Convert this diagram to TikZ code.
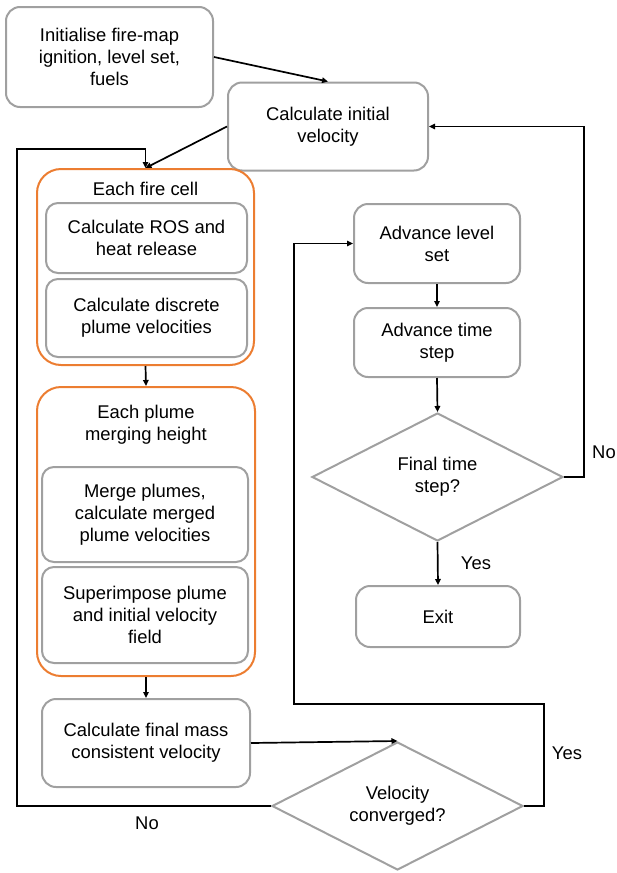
\documentclass[tikz,border=0pt]{standalone}
\usepackage{fontspec}
\setmainfont{Liberation Sans}
\usetikzlibrary{shapes.geometric,arrows.meta}
\definecolor{boxgray}{RGB}{160,160,160}
\definecolor{fireorange}{RGB}{236,125,49}
\begin{document}
\begin{tikzpicture}[x=1pt,y=-1pt,
  every node/.style={font=\fontsize{18.4}{22}\selectfont, align=center, inner sep=0pt},
  gbox/.style={draw=boxgray, line width=2pt, rounded corners=14pt, fill=white},
  obox/.style={draw=fireorange, line width=2pt, rounded corners=24pt},
  ibox/.style={draw=boxgray, line width=2pt, rounded corners=12pt},
  dbox/.style={draw=boxgray, line width=2pt, shape=diamond, aspect=2},
  conn/.style={line width=1.7pt, -{Triangle[length=6pt,width=5.5pt]}},
  plainline/.style={line width=1.7pt}]
\useasboundingbox (0,0) rectangle (616,873);

% left column
\node[gbox, minimum width=207pt, minimum height=100pt] (init) at (109.5,57) {Initialise fire-map\\ignition, level set,\\fuels};
\node[gbox, minimum width=200pt, minimum height=88pt] (calcinit) at (328,126.5) {Calculate initial\\velocity};

\node[obox, minimum width=217pt, minimum height=196pt] (cell) at (145.5,267) {};
\node (celltitle) at (145.5,189) {Each fire cell};
\node[ibox, minimum width=201pt, minimum height=70pt] (ros) at (146.5,238) {Calculate ROS and\\heat release};
\node[ibox, minimum width=201pt, minimum height=78pt] (disc) at (146.5,318) {Calculate discrete\\plume velocities};

\node[obox, minimum width=218pt, minimum height=289pt] (plume) at (146,531.5) {};
\node (plumetitle) at (146,424.5) {Each plume\\merging height};
\node[ibox, minimum width=206pt, minimum height=95pt] (merge) at (145,514.5) {Merge plumes,\\calculate merged\\plume velocities};
\node[ibox, minimum width=206pt, minimum height=96pt] (super) at (145,615) {Superimpose plume\\and initial velocity\\field};

\node[gbox, minimum width=208pt, minimum height=88pt] (mass) at (146,743) {Calculate final mass\\consistent velocity};
\node[dbox, minimum width=251pt, minimum height=128pt] (conv) at (397.5,806) {Velocity\\converged?};

% right column
\node[gbox, minimum width=166pt, minimum height=79pt] (advls) at (437,243.5) {Advance level\\set};
\node[gbox, minimum width=166pt, minimum height=69pt] (advts) at (437,342.5) {Advance time\\step};
\node[dbox, minimum width=251pt, minimum height=128pt] (final) at (437.5,477) {Final time\\step?};
\node[gbox, minimum width=164pt, minimum height=61pt] (exit) at (438,616.5) {Exit};

% labels
\node (lno1) at (604,452) {No};
\node (lyes1) at (476,563) {Yes};
\node (lyes2) at (567,753) {Yes};
\node (lno2) at (147,823) {No};

% coordinates for bends
\coordinate (nl) at (17,149);
\coordinate (nr) at (584,126.5);
\coordinate (ya) at (544,704);
\coordinate (yb) at (294,704);

% connectors
\draw[conn] (init.east) -- (calcinit.north);
\draw[conn] (calcinit.west) -- (cell.north);
\draw[conn] (cell.south) -- (plume.north);
\draw[conn] (plume.south) -- (mass.north);
\draw[conn] (mass.east) -- (conv.north);
\draw[conn] (conv.west) -| (nl) -| (cell.north);
\draw[conn] (conv.east) -| (ya) -- (yb) |- (advls.west);
\draw[conn] (advls.south) -- (advts.north);
\draw[conn] (advts.south) -- (final.north);
\draw[conn] (final.south) -- (exit.north);
\draw[conn] (final.east) -| (nr) -- (calcinit.east);
\end{tikzpicture}
\end{document}
